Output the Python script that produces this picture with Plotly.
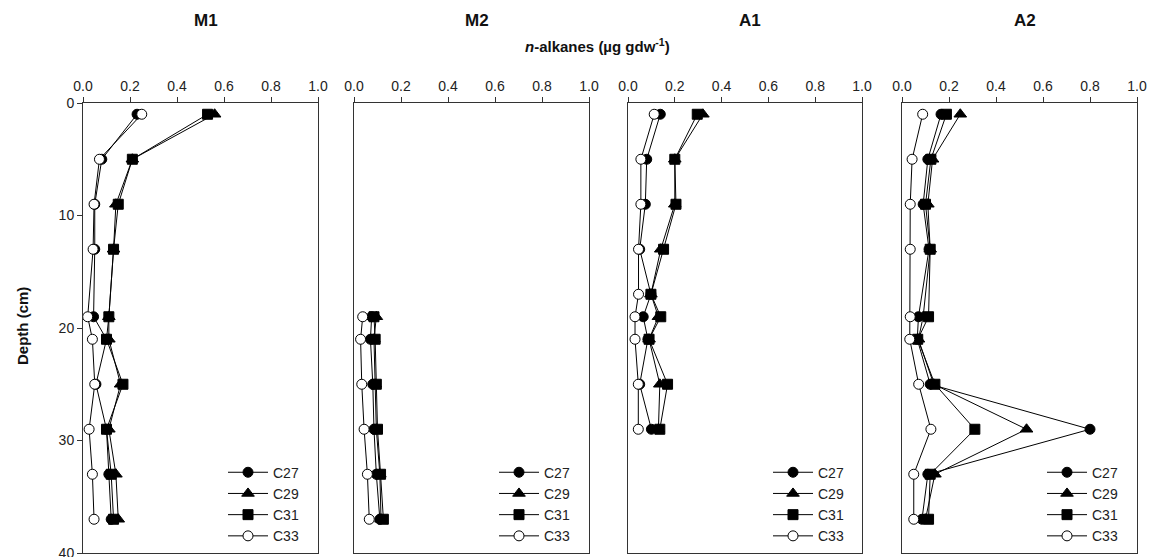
import plotly.graph_objects as go

# ---------------- data ----------------
series_names = ["C27", "C29", "C31", "C33"]

m1_depth = [1, 5, 9, 13, 19, 21, 25, 29, 33, 37]
m1_c27 = [0.23, 0.08, 0.05, 0.05, 0.045, 0.10, 0.055, 0.10, 0.11, 0.12]
m1_c29 = [0.56, 0.21, 0.14, 0.13, 0.11, 0.11, 0.16, 0.11, 0.14, 0.15]
m1_c31 = [0.53, 0.21, 0.15, 0.13, 0.11, 0.10, 0.17, 0.10, 0.12, 0.13]
m1_c33 = [0.25, 0.07, 0.047, 0.043, 0.02, 0.04, 0.05, 0.026, 0.04, 0.047]

m2_depth = [19, 21, 25, 29, 33, 37]
m2_c27 = [0.075, 0.07, 0.08, 0.085, 0.095, 0.11]
m2_c29 = [0.095, 0.085, 0.09, 0.095, 0.11, 0.115]
m2_c31 = [0.085, 0.09, 0.095, 0.10, 0.113, 0.125]
m2_c33 = [0.037, 0.028, 0.033, 0.043, 0.057, 0.065]

a1_depth = [1, 5, 9, 13, 17, 19, 21, 25, 29]
a1_c27 = [0.138, 0.08, 0.074, 0.05, 0.098, 0.065, 0.085, 0.05, 0.10]
a1_c29 = [0.32, 0.20, 0.20, 0.14, 0.098, 0.13, 0.09, 0.136, 0.13]
a1_c31 = [0.296, 0.20, 0.205, 0.152, 0.098, 0.14, 0.09, 0.169, 0.136]
a1_c33 = [0.112, 0.055, 0.055, 0.045, 0.045, 0.03, 0.03, 0.044, 0.044]

a2_depth = [1, 5, 9, 13, 19, 21, 25, 29, 33, 37]
a2_c27 = [0.166, 0.11, 0.09, 0.115, 0.07, 0.065, 0.12, 0.80, 0.11, 0.085]
a2_c29 = [0.248, 0.13, 0.11, 0.12, 0.09, 0.07, 0.135, 0.53, 0.14, 0.10]
a2_c31 = [0.189, 0.123, 0.10, 0.12, 0.113, 0.067, 0.14, 0.31, 0.12, 0.113]
a2_c33 = [0.088, 0.043, 0.035, 0.035, 0.035, 0.033, 0.071, 0.123, 0.05, 0.05]

panel_titles = ["M1", "M2", "A1", "A2"]
x_tick_vals = [0.0, 0.2, 0.4, 0.6, 0.8, 1.0]
x_tick_text = ["0.0", "0.2", "0.4", "0.6", "0.8", "1.0"]
y_tick_vals = [0, 10, 20, 30, 40]
y_tick_text = ["0", "10", "20", "30", "40"]

panels = [
    (m1_depth, [m1_c27, m1_c29, m1_c31, m1_c33]),
    (m2_depth, [m2_c27, m2_c29, m2_c31, m2_c33]),
    (a1_depth, [a1_c27, a1_c29, a1_c31, a1_c33]),
    (a2_depth, [a2_c27, a2_c29, a2_c31, a2_c33]),
]

# ---------------- styling ----------------
FONT = "Liberation Sans, Arial, sans-serif"
W, H = 1151, 557
ML, MR, MT, MB = 83, 14, 103, 4
plot_w = W - ML - MR
plot_h = H - MT - MB
panel_px = [(83, 318), (354, 589), (628, 862), (902, 1137)]
domains = [((a - ML) / plot_w, (b - ML) / plot_w) for a, b in panel_px]

symbols = ["circle", "triangle-up", "square", "circle"]
fills = ["black", "black", "black", "white"]
msizes = [10, 11, 10, 10]

fig = go.Figure()
legend_ids = ["legend", "legend2", "legend3", "legend4"]

for p, (depths, vals) in enumerate(panels):
    xa = "x" if p == 0 else f"x{p+1}"
    ya = "y" if p == 0 else f"y{p+1}"
    for s, name in enumerate(series_names):
        fig.add_trace(go.Scatter(
            x=vals[s], y=depths, mode="lines+markers", name=name,
            xaxis=xa, yaxis=ya,
            line=dict(color="black", width=1),
            marker=dict(symbol=symbols[s], size=msizes[s], color=fills[s],
                        line=dict(color="black", width=1)),
            legend=legend_ids[p], showlegend=True,
        ))

layout = dict(
    width=W, height=H,
    margin=dict(l=ML, r=MR, t=MT, b=MB, autoexpand=False),
    plot_bgcolor="white", paper_bgcolor="white",
    font=dict(family=FONT, size=14, color="#222"),
)

for p in range(4):
    xk = "xaxis" if p == 0 else f"xaxis{p+1}"
    yk = "yaxis" if p == 0 else f"yaxis{p+1}"
    ya = "y" if p == 0 else f"y{p+1}"
    xa = "x" if p == 0 else f"x{p+1}"
    layout[xk] = dict(
        domain=list(domains[p]), anchor=ya, side="top", range=[0, 1.0],
        tickvals=x_tick_vals, ticktext=x_tick_text, ticks="outside",
        ticklen=5, tickwidth=1, tickcolor="#333", showgrid=False, zeroline=False,
        showline=True, linecolor="#333", linewidth=1, mirror=True,
        tickfont=dict(size=14, family=FONT, color="#222"),
        fixedrange=True,
    )
    yax = dict(
        domain=[0, 1], anchor=xa, range=[40, 0], showgrid=False, zeroline=False,
        showline=True, linecolor="#333", linewidth=1, mirror=True,
        fixedrange=True,
    )
    if p == 0:
        yax.update(tickvals=y_tick_vals, ticktext=y_tick_text, ticks="outside",
                   ticklen=5, tickwidth=1, tickcolor="#333",
                   ticklabeloverflow="allow",
                   tickfont=dict(size=14, family=FONT, color="#222"))
    else:
        yax.update(showticklabels=False, ticks="")
    layout[yk] = yax

    leg_x = (panel_px[p][0] + 140 - ML) / plot_w
    layout[legend_ids[p]] = dict(
        x=leg_x, y=0.003, xanchor="left", yanchor="bottom",
        bgcolor="rgba(0,0,0,0)", borderwidth=0, tracegroupgap=0,
        itemwidth=40,
        font=dict(size=14, family=FONT, color="#222"),
    )

fig.update_layout(**layout)


def ypix(yp):
    return (H - MB - yp) / plot_h


annotations = []
for p, t in enumerate(panel_titles):
    cx = ((panel_px[p][0] + panel_px[p][1]) / 2 + 5 - ML) / plot_w
    annotations.append(dict(
        text=f"<b>{t}</b>", x=cx, y=ypix(20),
        xref="paper", yref="paper", showarrow=False,
        font=dict(size=17, family=FONT, color="#111"), xanchor="center", yanchor="middle",
    ))
annotations.append(dict(
    text="<b><i>n</i>-alkanes (µg gdw<sup>-1</sup>)</b>", x=(597 - ML) / plot_w, y=ypix(46),
    xref="paper", yref="paper", showarrow=False, xanchor="center", yanchor="middle",
    font=dict(size=15, family=FONT, color="#111"),
))
annotations.append(dict(
    text="<b>Depth (cm)</b>", x=(22 - ML) / plot_w, y=ypix(326),
    xref="paper", yref="paper", showarrow=False, xanchor="center", yanchor="middle",
    textangle=-90, font=dict(size=15, family=FONT, color="#111"),
))
fig.update_layout(annotations=annotations)

fig.write_html("out.html")
